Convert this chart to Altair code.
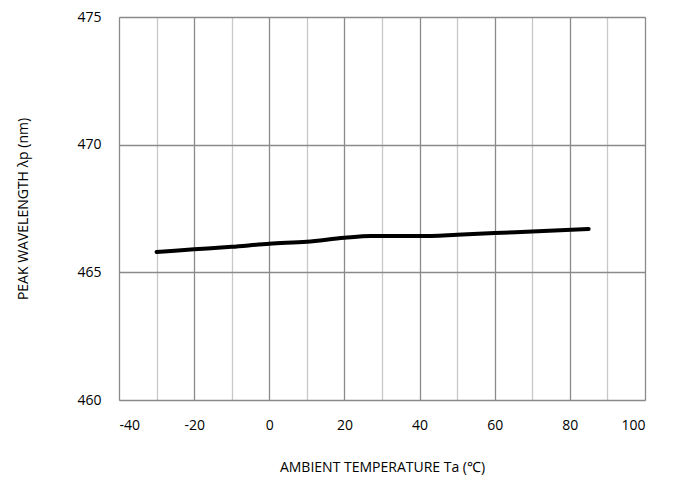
import altair as alt
import pandas as pd

temps = [-30, -20, -10, 0, 10, 20, 27, 40, 50, 60, 70, 85]
wavelengths = [465.8, 465.9, 466.0, 466.12, 466.2, 466.35, 466.42, 466.42, 466.47, 466.54, 466.6, 466.7]

x_ticks = [-40, -30, -20, -10, 0, 10, 20, 30, 40, 50, 60, 70, 80, 90, 100]
y_ticks = [460, 465, 470, 475]

df = pd.DataFrame({"t": temps, "w": wavelengths})

font = "Open Sans"

chart = alt.Chart(df).mark_line(color="black", strokeWidth=4, interpolate="monotone", strokeCap="round").encode(
    x=alt.X("t:Q", scale=alt.Scale(domain=[-40, 100], nice=False),
            axis=alt.Axis(values=x_ticks, title="AMBIENT TEMPERATURE Ta (℃)",
                          labelExpr="datum.value % 20 === 0 ? '' + datum.value : ''",
                          ticks=False, domain=False, labelPadding=18, titlePadding=28,
                          labelFont=font, titleFont=font, labelFontSize=14, titleFontSize=14,
                          titleFontWeight="normal", labelColor="#000", titleColor="#000",
                          gridColor=alt.condition("datum.value % 20 === 0", alt.value("#8a8a8a"), alt.value("#c8c8c8")),
                          gridWidth=1.3)),
    y=alt.Y("w:Q", scale=alt.Scale(domain=[460, 475], nice=False, zero=False),
            axis=alt.Axis(values=y_ticks, title="PEAK WAVELENGTH λp (nm)",
                          ticks=False, domain=False, labelPadding=18, titlePadding=46,
                          labelFont=font, titleFont=font, labelFontSize=14, titleFontSize=14,
                          titleFontWeight="normal", labelColor="#000", titleColor="#000",
                          gridColor="#8a8a8a", gridWidth=1.3)),
).properties(
    width=526, height=383,
    autosize=alt.AutoSizeParams(type="none"),
    padding={"left": 111, "top": 9, "right": 20, "bottom": 80},
).configure_view(stroke="#777", strokeWidth=1.5).configure(background="white")

chart.save("out.html", embed_options={"renderer": "svg", "actions": False})
